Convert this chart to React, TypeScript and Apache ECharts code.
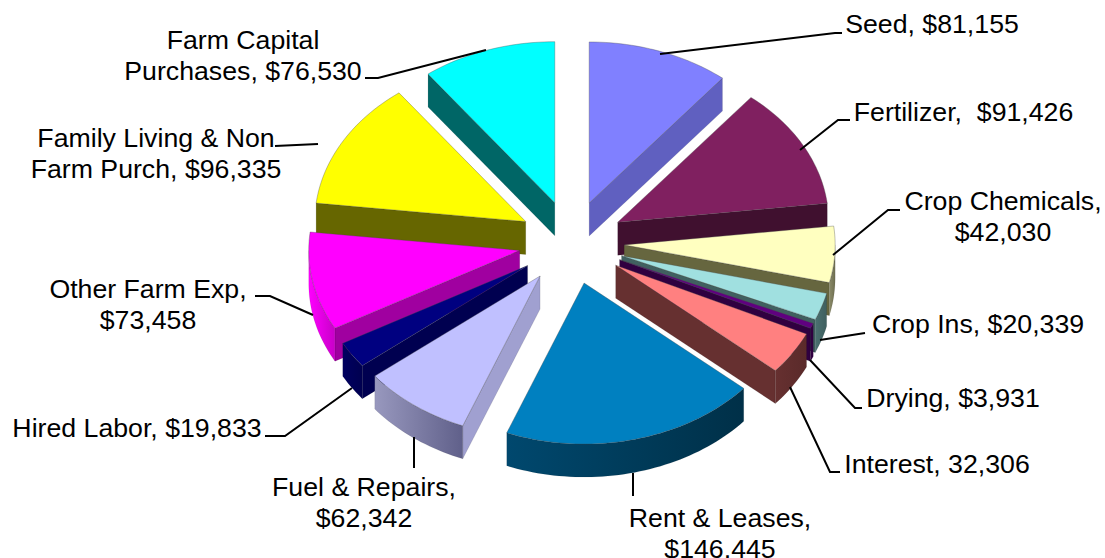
import React, { useEffect, useRef } from "react";
import * as echarts from "echarts";

const categories = ["Seed","Fertilizer","Crop Chemicals","Crop Ins","Drying","Interest","Rent & Leases","Fuel & Repairs","Hired Labor","Other Farm Exp","Family Living & Non Farm Purch","Farm Capital Purchases"];
const values = [81155, 91426, 42030, 20339, 3931, 32306, 146445, 62342, 19833, 73458, 96335, 76530];
const topColors = ["#8080FF","#802060","#FFFFC0","#A0E0E0","#600080","#FF8080","#0080C0","#C0C0FF","#000080","#FF00FF","#FFFF00","#00FFFF"];
const sideColors = ["#6060C0","#40102F","#66663F","#406060","#300040","#663030","#003350","#A0A0D0","#000050","#A000A0","#666600","#006666"];
const outerLeft = ["#6060C0","#40102F","#8A8A68","#4A7070","#300040","#663030","#00486E","#9898BE","#000060","#FF00FF","#666600","#006666"];
const outerRight = ["#6060C0","#40102F","#6E6E50","#3F5F5F","#300040","#5A2A2A","#003048","#60608A","#000050","#C800C8","#666600","#006666"];
const drawOrder = [0, 11, 1, 10, 9, 2, 3, 4, 5, 6, 8, 7];

const labels = [
  { text: "Seed, $81,155", x: 932, y: 24 },
  { text: "Fertilizer,  $91,426", x: 963.5, y: 112 },
  { text: "Crop Chemicals,\n$42,030", x: 1003, y: 216 },
  { text: "Crop Ins, $20,339", x: 978, y: 324 },
  { text: "Drying, $3,931", x: 953, y: 398 },
  { text: "Interest, 32,306", x: 937, y: 464 },
  { text: "Rent & Leases,\n$146,445", x: 720, y: 533 },
  { text: "Fuel & Repairs,\n$62,342", x: 364, y: 502 },
  { text: "Hired Labor, $19,833", x: 137, y: 428 },
  { text: "Other Farm Exp,\n$73,458", x: 148, y: 304 },
  { text: "Family Living & Non\nFarm Purch, $96,335", x: 156, y: 153 },
  { text: "Farm Capital\nPurchases, $76,530", x: 243, y: 55 },
];
const leaders = [
  [[660, 54], [835, 33], [842, 33]],
  [[800, 150], [838, 120], [850, 120]],
  [[833, 255], [888, 210], [900, 210]],
  [[820, 340], [865, 333]],
  [[810, 360], [855, 408], [862, 408]],
  [[790, 387], [830, 472], [840, 472]],
  [[633, 473], [633, 496]],
  [[414, 437], [414, 468]],
  [[352, 388], [285, 436], [265, 436]],
  [[313, 315], [270, 296], [255, 296]],
  [[318, 144], [275, 146]],
  [[486, 50], [378, 78], [365, 78]],
];

const CX = 571.5, CY = 242.4, RX = 211, RY = 161, DEPTH = 33, EXPLODE_X = 0.25, EXPLODE_Y = 0.26;
const FONT = '"Liberation Sans", Arial, sans-serif';
const total = values.reduce((a, b) => a + b, 0);
const rad = (d: number) => (d * Math.PI) / 180;
const starts: number[] = [];
values.reduce((acc, v, i) => { starts[i] = (acc / total) * 360; return acc + v; }, 0);

function arc(ax: number, ay: number, a0: number, a1: number, dz: number) {
  const pts: number[][] = [];
  const n = Math.max(2, Math.ceil((a1 - a0) / 1.5));
  for (let k = 0; k <= n; k++) {
    const a = rad(a0 + ((a1 - a0) * k) / n);
    pts.push([ax + RX * Math.sin(a), ay - RY * Math.cos(a) + dz]);
  }
  return pts;
}

function renderItem(_: any, api: any) {
  const i = api.value(1) as number;
  const a0 = starts[i];
  const a1 = a0 + (values[i] / total) * 360;
  const mid = rad((a0 + a1) / 2);
  const ax = CX + EXPLODE_X * RX * Math.sin(mid);
  const ay = CY - EXPLODE_Y * RY * Math.cos(mid);
  const children: any[] = [];
  const wall = (a: number) => {
    const [p] = arc(ax, ay, a, a, 0);
    children.push({
      type: "polygon",
      shape: { points: [[ax, ay], p, [p[0], p[1] + DEPTH], [ax, ay + DEPTH]] },
      style: { fill: sideColors[i], stroke: "rgba(0,0,0,0.2)", lineWidth: 0.5 },
    });
  };
  if (Math.sin(rad(a0)) < 0) wall(a0);
  if (Math.sin(rad(a1)) > 0) wall(a1);
  const o0 = Math.max(a0, 90), o1 = Math.min(a1, 270);
  if (o1 > o0) {
    const top = arc(ax, ay, o0, o1, 0);
    const bottom = arc(ax, ay, o0, o1, DEPTH).reverse();
    children.push({
      type: "polygon",
      shape: { points: [...top, ...bottom] },
      style: {
        fill: new echarts.graphic.LinearGradient(0, 0, 1, 0, [
          { offset: 0, color: outerLeft[i] },
          { offset: 1, color: outerRight[i] },
        ]),
        stroke: "rgba(0,0,0,0.15)",
        lineWidth: 0.5,
      },
    });
  }
  children.push({
    type: "polygon",
    shape: { points: [[ax, ay], ...arc(ax, ay, a0, a1, 0)] },
    style: { fill: topColors[i], stroke: "rgba(70,70,70,0.45)", lineWidth: 0.75 },
  });
  return { type: "group", children };
}

export default function App() {
  const ref = useRef<HTMLDivElement>(null);
  useEffect(() => {
    document.body.style.margin = "0";
    const chart = echarts.init(ref.current!, null, { renderer: "svg" });
    chart.setOption({
      animation: false,
      backgroundColor: "#ffffff",
      series: [
        {
          type: "custom",
          name: "Expenses",
          coordinateSystem: "none",
          silent: true,
          renderItem,
          data: drawOrder.map((i) => ({ name: categories[i], value: [values[i], i] })),
        },
      ],
      graphic: [
        ...leaders.map((points) => ({
          type: "polyline",
          z: 10,
          silent: true,
          shape: { points },
          style: { fill: "none", stroke: "#000000", lineWidth: 2 },
        })),
        ...labels.map((l) => ({
          type: "text",
          z: 11,
          silent: true,
          x: l.x,
          y: l.y,
          style: {
            text: l.text,
            fill: "#000000",
            font: `26.7px ${FONT}`,
            lineHeight: 31,
            align: "center",
            verticalAlign: "middle",
          },
        })),
      ],
    });
    return () => chart.dispose();
  }, []);
  return <div ref={ref} style={{ width: 1105, height: 558, overflow: "hidden" }} />;
}
